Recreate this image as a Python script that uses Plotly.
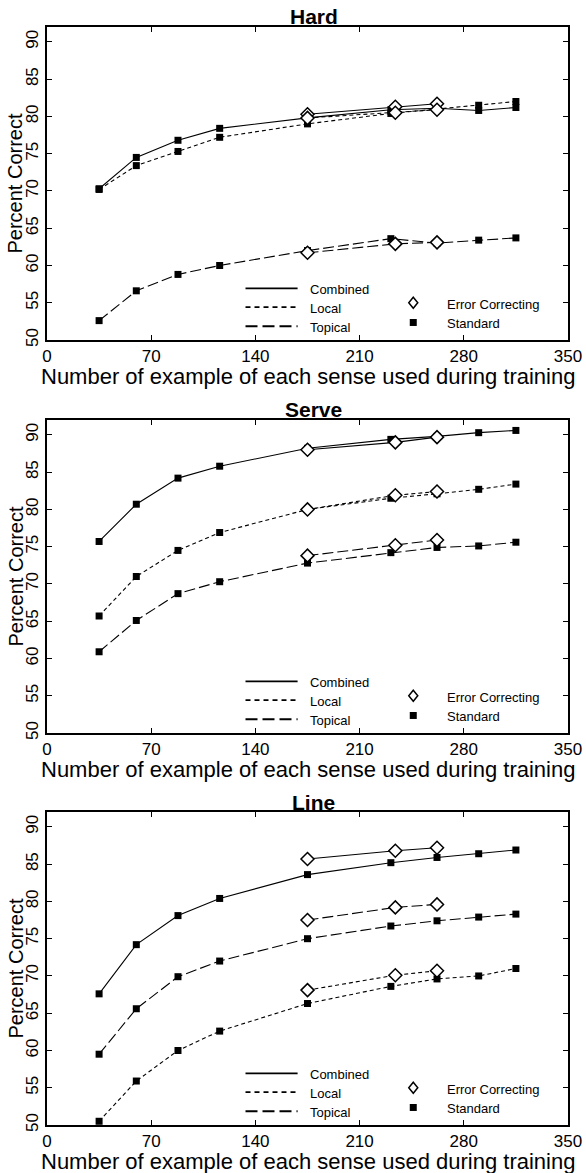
import plotly.graph_objects as go

# ---------------- data ----------------
x_standard = [35, 60, 88, 116, 175, 231, 262, 290, 315]
x_error_correcting = [175, 234, 262]

panel_titles = ["Hard", "Serve", "Line"]
features = ["Combined", "Local", "Topical"]

hard_combined_std = [70.3, 74.5, 76.8, 78.4, 79.8, 80.9, 81.1, 80.8, 81.2]
hard_local_std = [70.2, 73.4, 75.3, 77.2, 79.0, 80.4, 81.0, 81.5, 82.0]
hard_topical_std = [52.6, 56.6, 58.8, 60.0, 62.0, 63.6, 63.0, 63.4, 63.7]
hard_combined_ec = [80.3, 81.3, 81.7]
hard_local_ec = [79.8, 80.5, 80.9]
hard_topical_ec = [61.7, 62.9, 63.1]

serve_combined_std = [75.7, 80.7, 84.2, 85.8, 88.2, 89.4, 89.8, 90.3, 90.6]
serve_local_std = [65.7, 71.0, 74.5, 76.9, 80.0, 81.5, 82.1, 82.7, 83.4]
serve_topical_std = [60.9, 65.1, 68.7, 70.3, 72.8, 74.2, 74.9, 75.1, 75.6]
serve_combined_ec = [88.0, 89.0, 89.7]
serve_local_ec = [80.0, 81.9, 82.4]
serve_topical_ec = [73.8, 75.2, 75.9]

line_combined_std = [67.6, 74.2, 78.1, 80.4, 83.6, 85.2, 85.9, 86.4, 86.9]
line_local_std = [50.5, 55.9, 60.0, 62.6, 66.3, 68.6, 69.6, 70.0, 71.0]
line_topical_std = [59.5, 65.6, 69.9, 72.0, 75.0, 76.7, 77.4, 77.9, 78.3]
line_combined_ec = [85.7, 86.8, 87.2]
line_local_ec = [68.1, 70.1, 70.7]
line_topical_ec = [77.5, 79.2, 79.6]

x_ticks = [0, 70, 140, 210, 280, 350]
y_ticks = [50, 55, 60, 65, 70, 75, 80, 85, 90]

panels = [
    {"std": [hard_combined_std, hard_local_std, hard_topical_std],
     "ec": [hard_combined_ec, hard_local_ec, hard_topical_ec]},
    {"std": [serve_combined_std, serve_local_std, serve_topical_std],
     "ec": [serve_combined_ec, serve_local_ec, serve_topical_ec]},
    {"std": [line_combined_std, line_local_std, line_topical_std],
     "ec": [line_combined_ec, line_local_ec, line_topical_ec]},
]

# ---------------- layout geometry (pixels) ----------------
W, H = 586, 1173
PLOT_L, PLOT_R = 47, 568
PANEL_TOPS = [27, 420, 812]
PANEL_H = 313
FONT = "Liberation Sans, Arial, Helvetica, sans-serif"

dashes = {"Combined": "solid", "Local": "4px,3px", "Topical": "11px,4px"}
legend_dashes = {"Combined": "solid", "Local": "5px,4px", "Topical": "12px,5px"}

fig = go.Figure()
layout_axes = {}
annotations = []
shapes = []

for i, panel in enumerate(panels):
    n = "" if i == 0 else str(i + 1)
    xa, ya = "x" + n, "y" + n
    top = PANEL_TOPS[i]
    bottom = top + PANEL_H
    for j, feat in enumerate(features):
        fig.add_trace(go.Scatter(
            x=x_standard, y=panel["std"][j], mode="lines+markers",
            line=dict(color="black", width=1.1, dash=dashes[feat]),
            marker=dict(symbol="square", size=7, color="black"),
            xaxis=xa, yaxis=ya, showlegend=False, hoverinfo="skip"))
    for j, feat in enumerate(features):
        fig.add_trace(go.Scatter(
            x=x_error_correcting, y=panel["ec"][j], mode="lines+markers",
            line=dict(color="black", width=1.1, dash=dashes[feat]),
            marker=dict(symbol="diamond", size=10, color="white",
                        line=dict(color="black", width=1.5)),
            xaxis=xa, yaxis=ya, showlegend=False, hoverinfo="skip"))

    common = dict(showgrid=False, zeroline=False, showline=True, mirror="ticks",
                  linecolor="black", linewidth=1.5, ticks="inside", ticklen=5,
                  tickcolor="black", tickwidth=1, automargin=False,
                  tickfont=dict(family=FONT, size=17, color="black"))
    layout_axes["xaxis" + n] = dict(
        domain=[PLOT_L / W, PLOT_R / W], range=[0, 350], anchor=ya,
        tickvals=x_ticks, ticktext=[str(t) for t in x_ticks], **common)
    layout_axes["yaxis" + n] = dict(
        domain=[1 - bottom / H, 1 - top / H], range=[50, 92], anchor=xa,
        tickvals=y_ticks, ticktext=[str(t) for t in y_ticks], tickangle=-90,
        **common)

    dx, dy = xa + " domain", ya + " domain"
    # panel title
    annotations.append(dict(text="<b>%s</b>" % panel_titles[i], xref=dx, yref="paper",
                            x=0.512, y=1 - (top - 10) / H, showarrow=False,
                            font=dict(family=FONT, size=21, color="black"),
                            xanchor="center", yanchor="middle"))
    # x-axis title
    annotations.append(dict(text="Number of example of each sense used during training",
                            xref=dx, yref="paper", x=0.5, y=1 - (bottom + 36) / H,
                            showarrow=False, xanchor="center", yanchor="middle",
                            font=dict(family=FONT, size=22, color="black")))
    # y-axis title
    annotations.append(dict(text="Percent Correct", xref="paper", yref=dy,
                            x=15 / W, y=0.5, textangle=-90, showarrow=False,
                            xanchor="center", yanchor="middle",
                            font=dict(family=FONT, size=20, color="black")))
    # legend: line styles
    leg_y = [0.165, 0.105, 0.044]
    for j, feat in enumerate(features):
        shapes.append(dict(type="line", xref=dx, yref=dy, x0=0.381, x1=0.481,
                           y0=leg_y[j], y1=leg_y[j],
                           line=dict(color="black", width=1.8, dash=legend_dashes[feat])))
        annotations.append(dict(text=feat, xref=dx, yref=dy, x=0.501, y=leg_y[j] - 0.004,
                                showarrow=False, xanchor="left", yanchor="middle",
                                font=dict(family=FONT, size=13, color="black")))
    # legend: marker styles
    shapes.append(dict(type="path", xref=dx, yref=dy, xsizemode="pixel", ysizemode="pixel",
                       xanchor=0.703, yanchor=0.119,
                       path="M0,5.5 L4.5,0 L0,-5.5 L-4.5,0 Z",
                       line=dict(color="black", width=1.5), fillcolor="white"))
    shapes.append(dict(type="rect", xref=dx, yref=dy, xsizemode="pixel", ysizemode="pixel",
                       xanchor=0.703, yanchor=0.056, x0=-3.5, x1=3.5, y0=-3.5, y1=3.5,
                       line=dict(color="black", width=0), fillcolor="black"))
    annotations.append(dict(text="Error Correcting", xref=dx, yref=dy, x=0.764, y=0.114,
                            showarrow=False, xanchor="left", yanchor="middle",
                            font=dict(family=FONT, size=13, color="black")))
    annotations.append(dict(text="Standard", xref=dx, yref=dy, x=0.764, y=0.052,
                            showarrow=False, xanchor="left", yanchor="middle",
                            font=dict(family=FONT, size=13, color="black")))

fig.update_layout(
    width=W, height=H, margin=dict(l=0, r=0, t=0, b=0),
    paper_bgcolor="white", plot_bgcolor="white", showlegend=False,
    annotations=annotations, shapes=shapes, **layout_axes)

fig.write_html("out.html", config={"displayModeBar": False},
               post_script="document.body.style.margin='0px';"
                           "document.body.style.overflow='hidden';")
